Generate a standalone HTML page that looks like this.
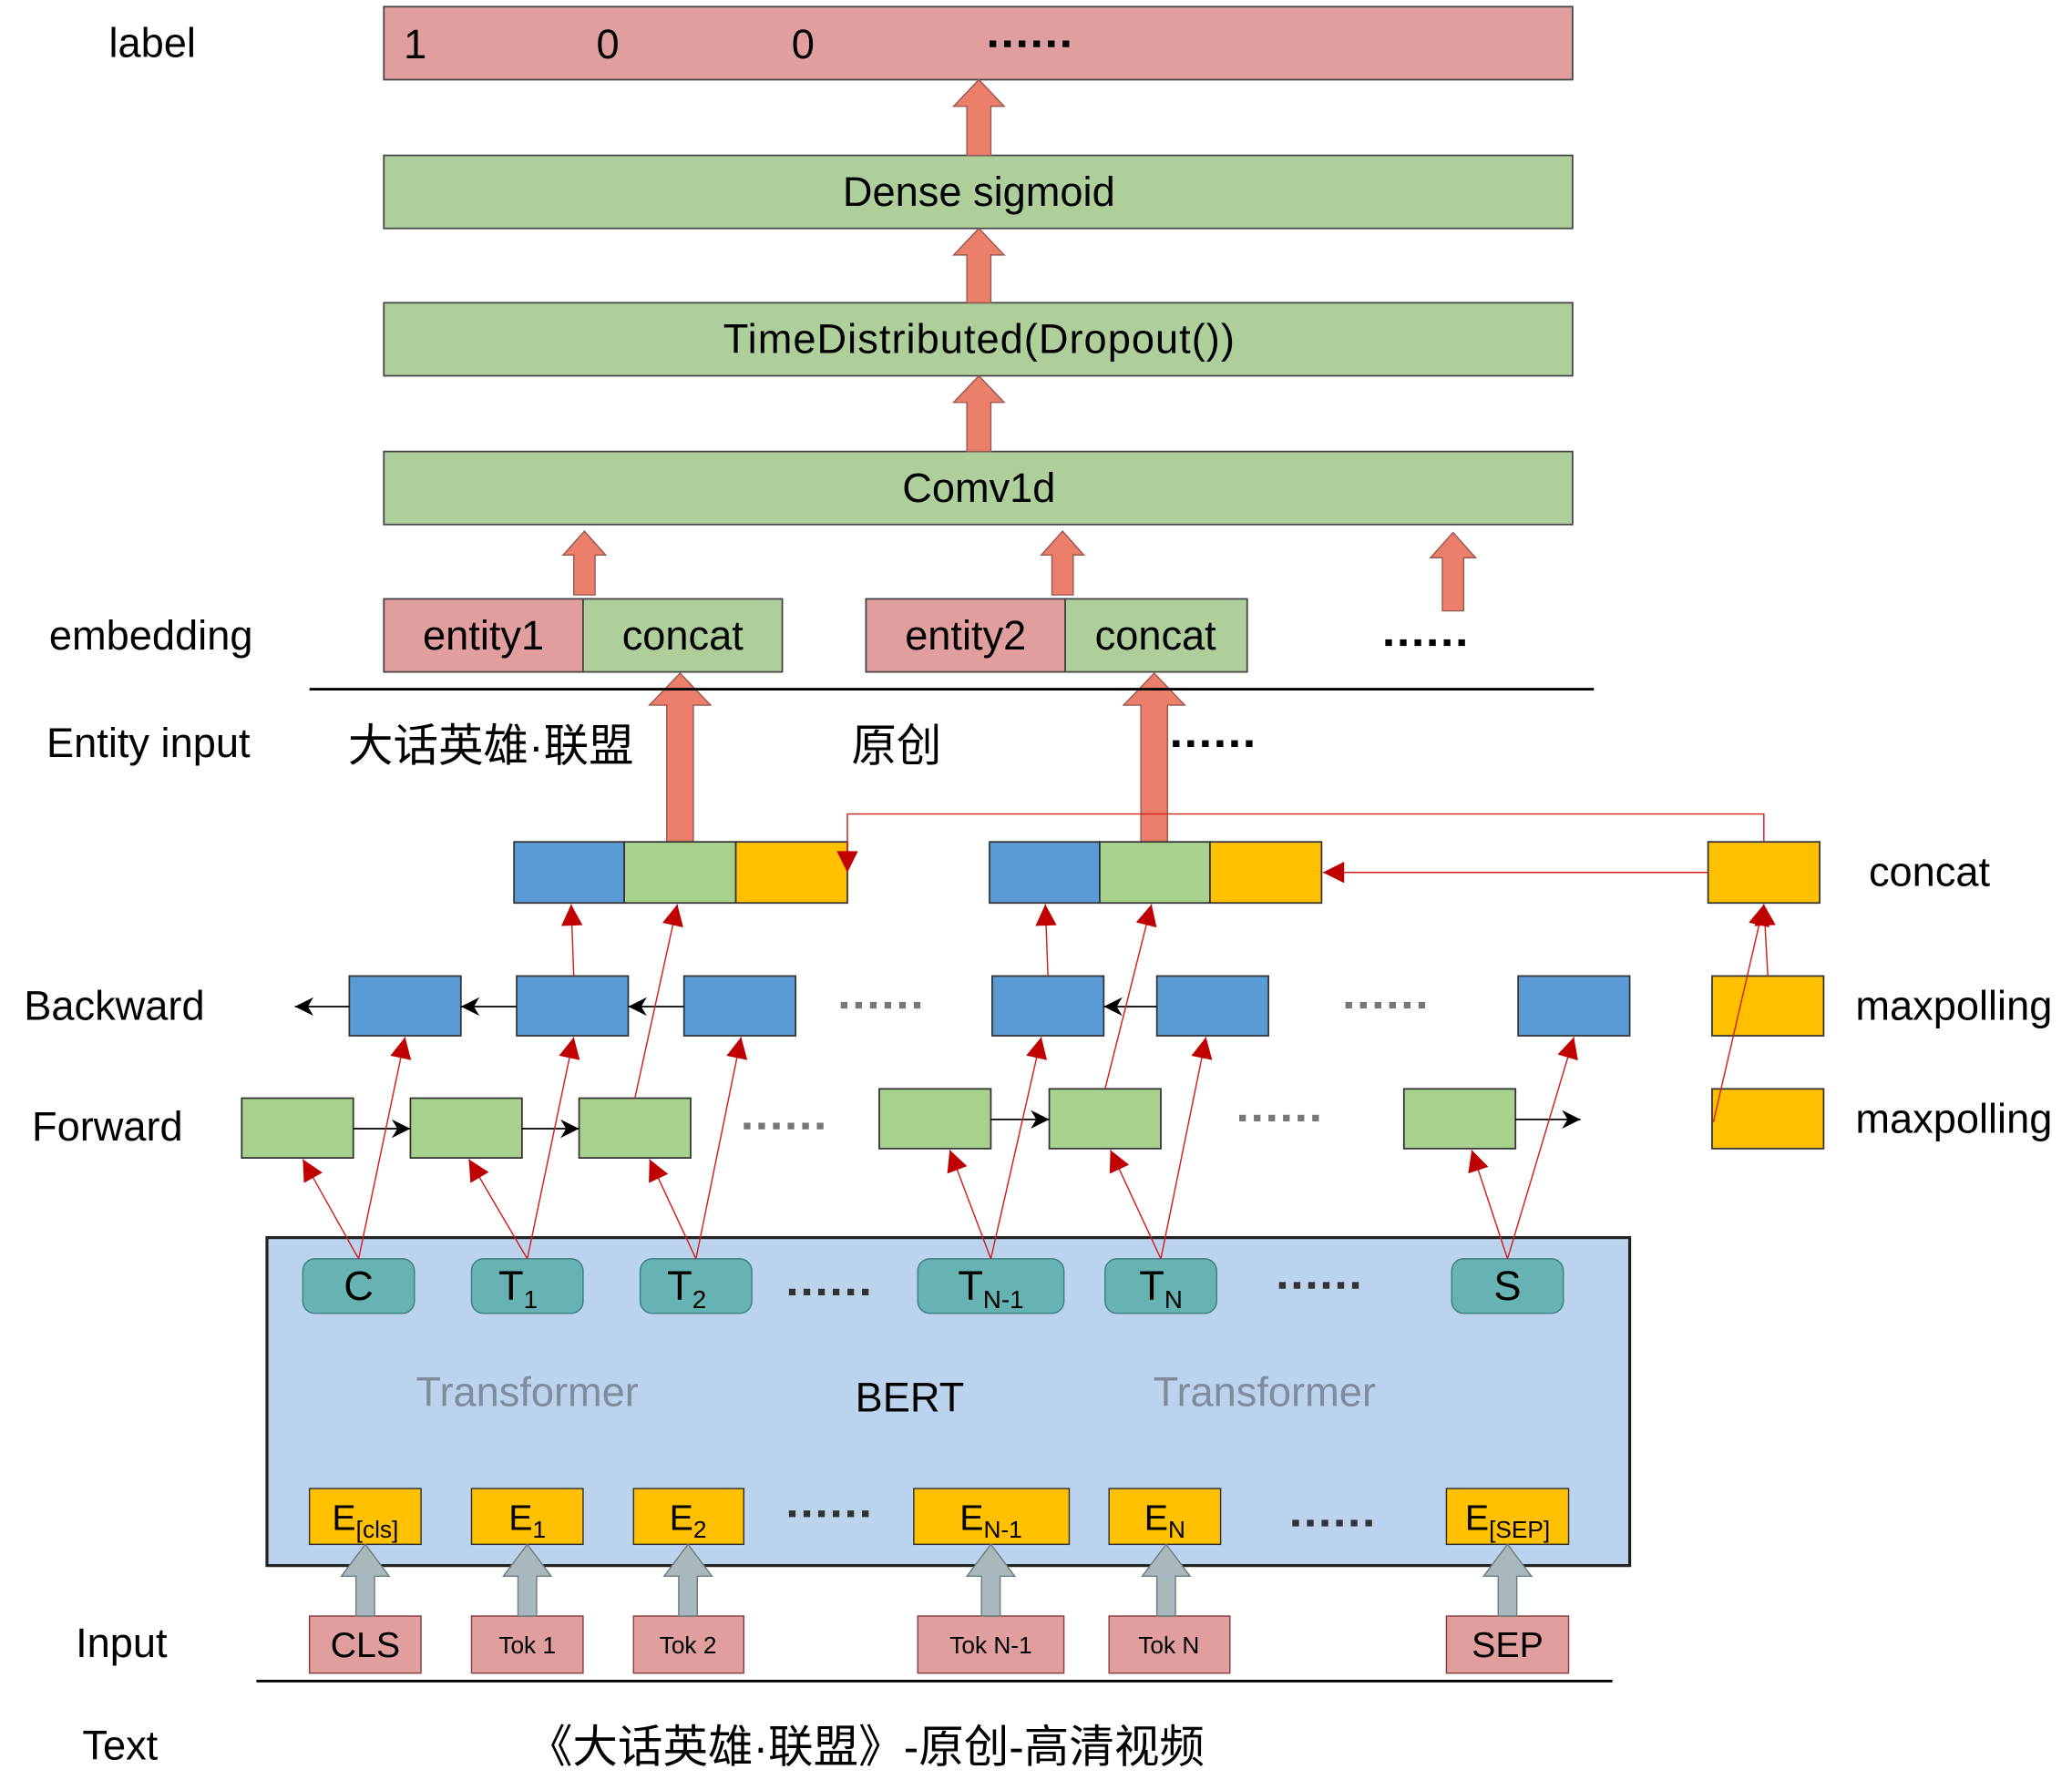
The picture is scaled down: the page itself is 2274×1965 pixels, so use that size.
<!DOCTYPE html>
<html><head><meta charset="utf-8"><style>
html,body{margin:0;padding:0;background:#fff;}
svg{display:block;}
text{font-family:"Liberation Sans","Noto Sans CJK SC",sans-serif;}
</style></head><body>
<svg width="2274" height="1965" viewBox="0 0 1560 1348" xmlns="http://www.w3.org/2000/svg">
<defs>
<marker id="ra2" viewBox="0 0 10 10" refX="10" refY="5" markerWidth="18" markerHeight="16" orient="auto" markerUnits="userSpaceOnUse"><path d="M0,0 L10,5 L0,10 z" fill="#C00000"/></marker>
<marker id="ba" viewBox="0 0 10 10" refX="10" refY="5" markerWidth="16" markerHeight="14" orient="auto" markerUnits="userSpaceOnUse"><path d="M0,0 L10,5 L0,10 L3,5 z" fill="#000"/></marker>
</defs>
<g stroke="#444" stroke-width="1.2">
<rect x="289" y="5" width="895" height="55" fill="#E09E9E"/>
<rect x="289" y="117" width="895" height="55" fill="#AECF9C"/>
<rect x="289" y="228" width="895" height="55" fill="#AECF9C"/>
<rect x="289" y="340" width="895" height="55" fill="#AECF9C"/>
<rect x="289" y="451" width="150" height="55" fill="#E09E9E"/>
<rect x="439" y="451" width="150" height="55" fill="#AECF9C"/>
<rect x="652" y="451" width="150" height="55" fill="#E09E9E"/>
<rect x="802" y="451" width="137" height="55" fill="#AECF9C"/>
</g>
<g fill="#EB7F6B" stroke="#9A5A50" stroke-width="1">
<path d="M728,117 V80 H718 L737,60 L756,80 H746 V117 Z"/>
<path d="M728,228 V192 H718 L737,172 L756,192 H746 V228 Z"/>
<path d="M728,340 V303 H718 L737,283 L756,303 H746 V340 Z"/>
<path d="M432,448 V418 H424 L440,400 L456,418 H448 V448 Z"/>
<path d="M792,448 V418 H784 L800,400 L816,418 H808 V448 Z"/>
<path d="M1086,460 V420 H1077 L1094,401 L1111,420 H1102 V460 Z"/>
<path d="M502,634 V531 H489 L512,507 L535,531 H522 V634 Z"/>
<path d="M859,634 V531 H846 L869,507 L892,531 H879 V634 Z"/>
</g>
<line x1="233" y1="519" x2="1200" y2="519" stroke="#000" stroke-width="2"/>
<line x1="193" y1="1266" x2="1214" y2="1266" stroke="#000" stroke-width="2"/>
<g stroke="#333" stroke-width="1.2">
<rect x="387" y="634" width="83" height="46" fill="#5B9BD5"/>
<rect x="470" y="634" width="84" height="46" fill="#A9D18E"/>
<rect x="554" y="634" width="84" height="46" fill="#FFC000"/>
<rect x="745" y="634" width="83" height="46" fill="#5B9BD5"/>
<rect x="828" y="634" width="83" height="46" fill="#A9D18E"/>
<rect x="911" y="634" width="84" height="46" fill="#FFC000"/>
<rect x="1286" y="634" width="84" height="46" fill="#FFC000"/>
<rect x="263" y="735" width="84" height="45" fill="#5B9BD5"/>
<rect x="389" y="735" width="84" height="45" fill="#5B9BD5"/>
<rect x="515" y="735" width="84" height="45" fill="#5B9BD5"/>
<rect x="747" y="735" width="84" height="45" fill="#5B9BD5"/>
<rect x="871" y="735" width="84" height="45" fill="#5B9BD5"/>
<rect x="1143" y="735" width="84" height="45" fill="#5B9BD5"/>
<rect x="1289" y="735" width="84" height="45" fill="#FFC000"/>
<rect x="182" y="827" width="84" height="45" fill="#A9D18E"/>
<rect x="309" y="827" width="84" height="45" fill="#A9D18E"/>
<rect x="436" y="827" width="84" height="45" fill="#A9D18E"/>
<rect x="662" y="820" width="84" height="45" fill="#A9D18E"/>
<rect x="790" y="820" width="84" height="45" fill="#A9D18E"/>
<rect x="1057" y="820" width="84" height="45" fill="#A9D18E"/>
<rect x="1289" y="820" width="84" height="45" fill="#FFC000"/>
</g>
<g stroke="#000" stroke-width="1.2" marker-end="url(#ba)">
<line x1="263" y1="758" x2="222" y2="758"/>
<line x1="389" y1="758" x2="347" y2="758"/>
<line x1="515" y1="758" x2="473" y2="758"/>
<line x1="871" y1="758" x2="831" y2="758"/>
<line x1="266" y1="850" x2="309" y2="850"/>
<line x1="393" y1="850" x2="436" y2="850"/>
<line x1="746" y1="843" x2="790" y2="843"/>
<line x1="1141" y1="843" x2="1190" y2="843"/>
</g>
<rect x="201" y="932" width="1026" height="247" fill="#BCD3EE" stroke="#222" stroke-width="2.2"/>
<g stroke="#3E7F80" stroke-width="1" fill="#67B3B3">
<rect x="228" y="948" width="84" height="41" rx="9"/>
<rect x="355" y="948" width="84" height="41" rx="9"/>
<rect x="482" y="948" width="84" height="41" rx="9"/>
<rect x="691" y="948" width="110" height="41" rx="9"/>
<rect x="832" y="948" width="84" height="41" rx="9"/>
<rect x="1093" y="948" width="84" height="41" rx="9"/>
</g>
<g stroke="#333" stroke-width="1" fill="#FFC000">
<rect x="233" y="1121" width="84" height="42"/>
<rect x="355" y="1121" width="84" height="42"/>
<rect x="477" y="1121" width="83" height="42"/>
<rect x="688" y="1121" width="117" height="42"/>
<rect x="835" y="1121" width="84" height="42"/>
<rect x="1089" y="1121" width="92" height="42"/>
</g>
<g stroke="#8B4040" stroke-width="1" fill="#E09E9E">
<rect x="233" y="1217" width="84" height="43"/>
<rect x="355" y="1217" width="84" height="43"/>
<rect x="477" y="1217" width="83" height="43"/>
<rect x="691" y="1217" width="110" height="43"/>
<rect x="835" y="1217" width="91" height="43"/>
<rect x="1089" y="1217" width="92" height="43"/>
</g>
<g fill="#A8B8BC" stroke="#6E7E82" stroke-width="1">
<path d="M268,1217 V1187 H257 L275,1163 L293,1187 H282 V1217 Z"/>
<path d="M390,1217 V1187 H379 L397,1163 L415,1187 H404 V1217 Z"/>
<path d="M511,1217 V1187 H500 L518,1163 L536,1187 H525 V1217 Z"/>
<path d="M739,1217 V1187 H728 L746,1163 L764,1187 H753 V1217 Z"/>
<path d="M871,1217 V1187 H860 L878,1163 L896,1187 H885 V1217 Z"/>
<path d="M1128,1217 V1187 H1117 L1135,1163 L1153,1187 H1142 V1217 Z"/>
</g>
<g stroke="#D02020" stroke-width="1" fill="none" marker-end="url(#ra2)">
<line x1="270" y1="948" x2="228" y2="873"/>
<line x1="270" y1="948" x2="305" y2="781"/>
<line x1="397" y1="948" x2="353" y2="873"/>
<line x1="397" y1="948" x2="432" y2="781"/>
<line x1="524" y1="948" x2="489" y2="873"/>
<line x1="524" y1="948" x2="558" y2="781"/>
<line x1="746" y1="948" x2="715" y2="866"/>
<line x1="746" y1="948" x2="784" y2="781"/>
<line x1="874" y1="948" x2="836" y2="866"/>
<line x1="874" y1="948" x2="908" y2="781"/>
<line x1="1135" y1="948" x2="1108" y2="866"/>
<line x1="1135" y1="948" x2="1185" y2="781"/>
<line x1="432" y1="735" x2="430" y2="681"/>
<line x1="478" y1="827" x2="510" y2="681"/>
<line x1="789" y1="735" x2="787" y2="681"/>
<line x1="832" y1="820" x2="867" y2="681"/>
<line x1="1331" y1="735" x2="1328" y2="681"/>
<line x1="1290" y1="845" x2="1328" y2="681"/>
<path d="M1328,634 V613 H638 V657"/>
<line x1="1286" y1="657" x2="996" y2="657"/>
</g>
<g font-size="31" fill="#000">
<text x="82" y="43">label</text>
<text x="37" y="489">embedding</text>
<text x="35" y="570">Entity input</text>
<text x="18" y="768">Backward</text>
<text x="24" y="859">Forward</text>
<text x="57" y="1248">Input</text>
<text x="62" y="1325">Text</text>
<text x="1407" y="667">concat</text>
<text x="1397" y="768">maxpolling</text>
<text x="1397" y="853">maxpolling</text>
<text x="304" y="44">1</text>
<text x="449" y="44">0</text>
<text x="596" y="44">0</text>
<text x="737" y="155" text-anchor="middle">Dense  sigmoid</text>
<text x="737" y="266" text-anchor="middle" textLength="385">TimeDistributed(Dropout())</text>
<text x="737" y="378" text-anchor="middle">Comv1d</text>
<text x="364" y="489" text-anchor="middle">entity1</text>
<text x="514" y="489" text-anchor="middle">concat</text>
<text x="727" y="489" text-anchor="middle">entity2</text>
<text x="870" y="489" text-anchor="middle">concat</text>
<text x="270" y="979" text-anchor="middle">C</text>
<text x="390" y="979" text-anchor="middle">T<tspan font-size="19" dy="6">1</tspan></text>
<text x="517" y="979" text-anchor="middle">T<tspan font-size="19" dy="6">2</tspan></text>
<text x="746" y="979" text-anchor="middle">T<tspan font-size="19" dy="6">N-1</tspan></text>
<text x="874" y="979" text-anchor="middle">T<tspan font-size="19" dy="6">N</tspan></text>
<text x="1135" y="979" text-anchor="middle">S</text>
<text x="685" y="1063" text-anchor="middle">BERT</text>
<text x="397" y="1059" text-anchor="middle" fill="#7F8C9C">Transformer</text>
<text x="952" y="1059" text-anchor="middle" fill="#7F8C9C">Transformer</text>
</g>
<g font-size="34" fill="#000">
<text x="262" y="573">大话英雄·联盟</text>
<text x="641" y="573">原创</text>
<text x="652" y="1327" text-anchor="middle">《大话英雄·联盟》-原创-高清视频</text>
</g>
<g font-size="27" fill="#000">
<text x="275" y="1152" text-anchor="middle">E<tspan font-size="18" dy="6">[cls]</tspan></text>
<text x="397" y="1152" text-anchor="middle">E<tspan font-size="18" dy="6">1</tspan></text>
<text x="518" y="1152" text-anchor="middle">E<tspan font-size="18" dy="6">2</tspan></text>
<text x="746" y="1152" text-anchor="middle">E<tspan font-size="18" dy="6">N-1</tspan></text>
<text x="877" y="1152" text-anchor="middle">E<tspan font-size="18" dy="6">N</tspan></text>
<text x="1135" y="1152" text-anchor="middle">E<tspan font-size="18" dy="6">[SEP]</tspan></text>
<text x="275" y="1248" text-anchor="middle">CLS</text>
<text x="1135" y="1248" text-anchor="middle">SEP</text>
</g>
<g font-size="18" fill="#000" text-anchor="middle">
<text x="397" y="1245">Tok 1</text>
<text x="518" y="1245">Tok 2</text>
<text x="746" y="1245">Tok N-1</text>
<text x="880" y="1245">Tok N</text>
</g>
<g stroke-width="5" stroke-dasharray="5,6">
<line x1="745" y1="33" x2="810" y2="33" stroke="#000"/>
<line x1="1043" y1="484" x2="1106" y2="484" stroke="#000"/>
<line x1="883" y1="560" x2="947" y2="560" stroke="#000"/>
<line x1="633" y1="757" x2="698" y2="757" stroke="#777"/>
<line x1="1013" y1="757" x2="1078" y2="757" stroke="#777"/>
<line x1="560" y1="848" x2="625" y2="848" stroke="#777"/>
<line x1="933" y1="842" x2="998" y2="842" stroke="#777"/>
<line x1="594" y1="973" x2="659" y2="973" stroke="#333"/>
<line x1="963" y1="968" x2="1028" y2="968" stroke="#333"/>
<line x1="594" y1="1140" x2="659" y2="1140" stroke="#333"/>
<line x1="973" y1="1147" x2="1038" y2="1147" stroke="#333"/>
</g>
</svg>
</body></html>
